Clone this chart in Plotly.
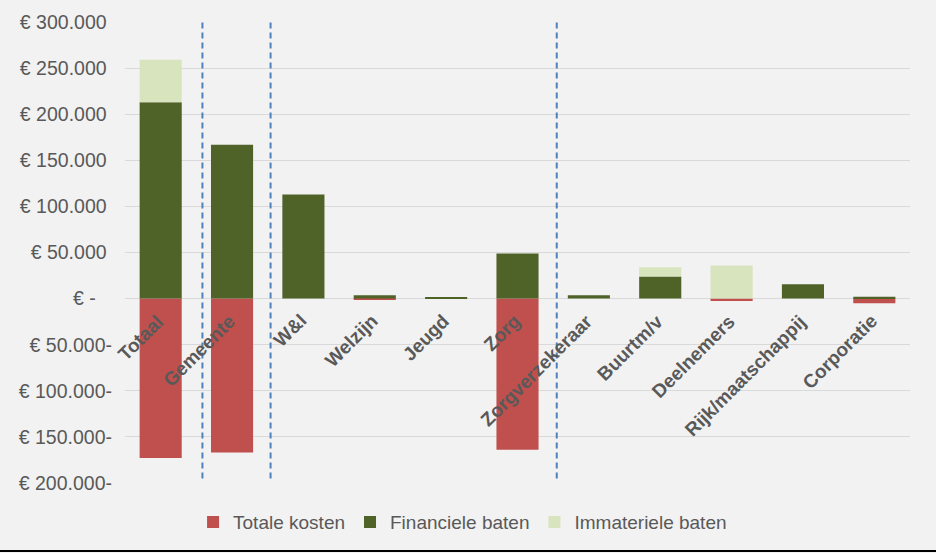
import plotly.graph_objects as go

categories = ["Totaal", "Gemeente", "W&I", "Welzijn", "Jeugd", "Zorg",
              "Zorgverzekeraar", "Buurtm/v", "Deelnemers", "Rijk/maatschappij", "Corporatie"]
totale_kosten = [-173000, -167000, 0, -1500, 0, -164000, 0, 0, -2500, 0, -5000]
financiele_baten = [213000, 167000, 113000, 3500, 1000, 49000, 3500, 24000, 0, 15500, 2000]
immateriele_baten = [46000, 0, 0, 0, 0, 0, 0, 10000, 36000, 0, 0]

tick_vals = [300000, 250000, 200000, 150000, 100000, 50000, 0,
             -50000, -100000, -150000, -200000]
tick_text = ["€ 300.000\u00a0", "€ 250.000\u00a0", "€ 200.000\u00a0", "€ 150.000\u00a0",
             "€ 100.000\u00a0", "€ 50.000\u00a0", "€ -\u00a0\u00a0\u00a0",
             "€ 50.000-", "€ 100.000-", "€ 150.000-", "€ 200.000-"]
separators = [0.585, 1.54, 5.55]

FONT = "Liberation Sans, Arial, sans-serif"
GREY = "#595959"

fig = go.Figure()
fig.add_trace(go.Bar(x=categories, y=totale_kosten, name="Totale kosten",
                     marker=dict(color="#C0504D", line=dict(width=0))))
fig.add_trace(go.Bar(x=categories, y=financiele_baten, name="Financiele baten",
                     marker=dict(color="#4F6228", line=dict(width=0))))
fig.add_trace(go.Bar(x=categories, y=immateriele_baten, name="Immateriele baten",
                     marker=dict(color="#D7E4BD", line=dict(width=0))))

for s in separators:
    fig.add_shape(type="line", xref="x", yref="y", x0=s, x1=s, y0=-195000, y1=300000,
                  line=dict(color="#4F81BD", width=2, dash="6px,4px"), layer="above")

for c in categories:
    fig.add_annotation(x=c, y=0, xref="x", yref="y", text="<b>%s</b>" % c,
                       textangle=-45, xanchor="right", yanchor="top",
                       showarrow=False, xshift=10, yshift=-9,
                       font=dict(family=FONT, size=19, color=GREY))

# bottom border line of the chart image
fig.add_shape(type="line", xref="paper", yref="paper", x0=-0.2, x1=1.1,
              y0=-0.1475, y1=-0.1475, line=dict(color="#000000", width=2))

fig.update_layout(
    width=936, height=553,
    barmode="relative", bargap=0.41,
    paper_bgcolor="#F2F2F2", plot_bgcolor="#F2F2F2",
    margin=dict(l=125, r=26, t=22, b=70),
    font=dict(family=FONT, size=19, color=GREY),
    showlegend=True,
    legend=dict(orientation="h", x=0.43, xanchor="center", y=-0.085, yanchor="middle",
                font=dict(family=FONT, size=19, color=GREY), bgcolor="rgba(0,0,0,0)",
                traceorder="normal", itemwidth=30),
    xaxis=dict(type="category", showticklabels=False, showgrid=False, zeroline=False,
               showline=False, range=[-0.5, 10.5], fixedrange=True),
    yaxis=dict(range=[-200000, 300000], tickvals=tick_vals, ticktext=tick_text,
               showgrid=True, gridcolor="#D9D9D9", gridwidth=1, zeroline=True,
               zerolinecolor="#D9D9D9", zerolinewidth=1, showline=False, ticks="",
               ticklabelstandoff=12, tickfont=dict(family=FONT, size=19.5, color=GREY),
               fixedrange=True),
)

fig.write_html("out.html", config={"displayModeBar": False},
               post_script="document.body.style.margin='0';document.body.style.overflow='hidden';")
